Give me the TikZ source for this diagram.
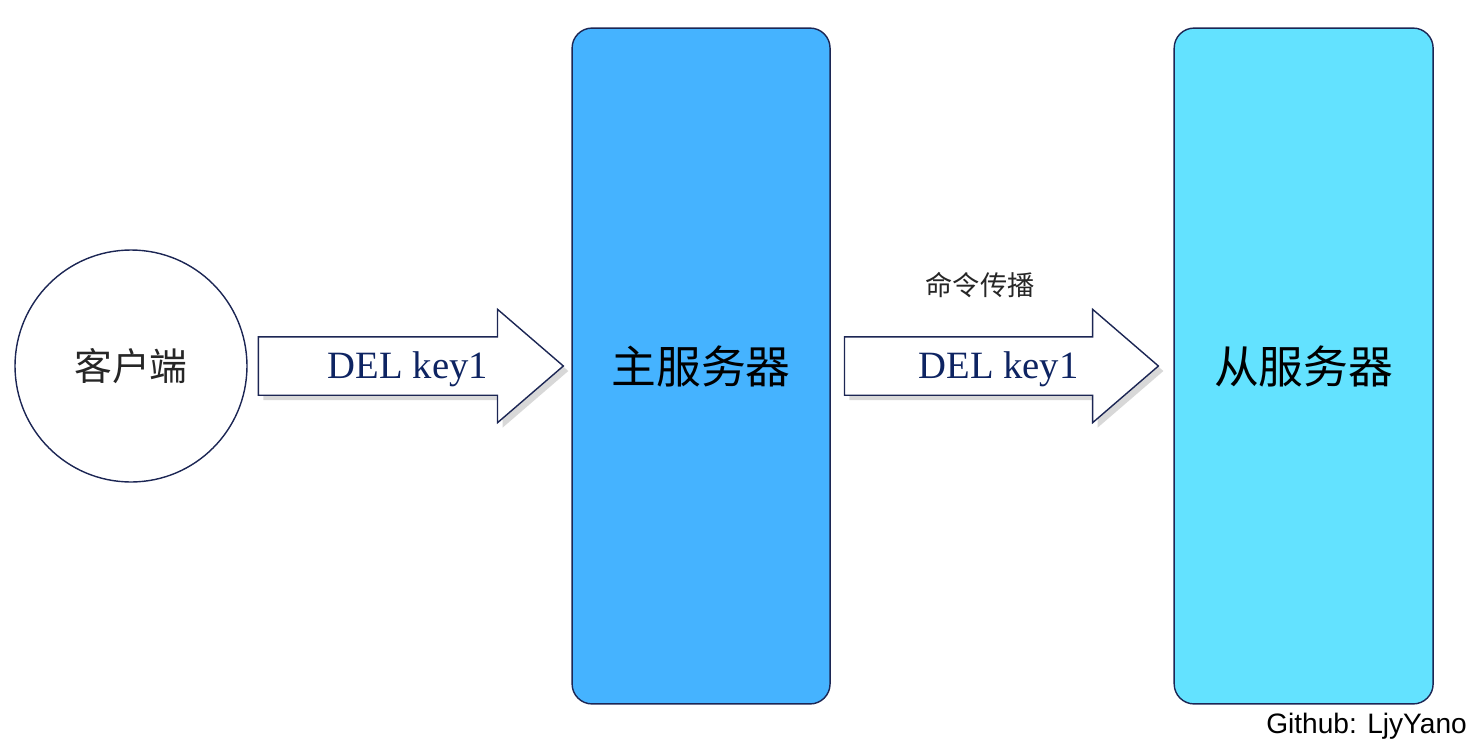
\documentclass[tikz,border=0pt]{standalone}
\usepackage{fontspec}
\setmainfont{Liberation Serif}
\newfontfamily\cjk{Noto Sans CJK SC}
\newfontfamily\ghfont{Liberation Sans}
\usepackage{tikz}
\usetikzlibrary{positioning,shapes.arrows,shadows}
\definecolor{edgecolor}{RGB}{28,38,84}
\definecolor{txtcolor}{RGB}{14,36,98}
\definecolor{mastercolor}{RGB}{69,179,255}
\definecolor{slavecolor}{RGB}{99,226,255}

\begin{document}
\begin{tikzpicture}[x=0.02cm,y=-0.02cm,
    server/.style={draw=edgecolor,thick,rounded corners=0.4cm,minimum width=5.16cm,minimum height=13.52cm,
      font=\cjk\fontsize{25.5}{30}\selectfont},
    cmdarrow/.style={single arrow,draw=edgecolor,fill=white,thick,single arrow head extend=0.55cm,
      single arrow tip angle=81.5,minimum height=6.1cm,inner ysep=0pt,text height=0.81cm,text depth=0.33cm,
      text=txtcolor,font=\fontsize{22}{26}\selectfont,
      drop shadow={shadow xshift=0.1cm,shadow yshift=-0.1cm,fill=black!30,opacity=0.5}}]
  \useasboundingbox (0,0) rectangle (1471,747);
  % client, master and slave
  \node[circle,draw=edgecolor,thick,minimum size=4.64cm,font=\cjk\fontsize{21.5}{26}\selectfont,text=black!85]
    (client) at (131,366) {客户端};
  \node[cmdarrow,right=0.2cm of client] (req) {\hspace*{0.56cm}DEL key1};
  \node[server,fill=mastercolor,right=0.14cm of req] (master) {主服务器};
  \node[cmdarrow,minimum height=6.28cm,right=0.26cm of master] (prop) {\hspace*{0.56cm}DEL key1};
  \node[server,fill=slavecolor,minimum width=5.18cm,right=0.28cm of prop] (slave) {从服务器};
  \node[font=\cjk\fontsize{15.5}{19}\selectfont,text=black!85] (proplabel) at (980,285) {命令传播};
  \node[anchor=east,font=\ghfont\fontsize{16}{19}\selectfont] (credit) at (1473,726) {Github: LjyYano};
\end{tikzpicture}
\end{document}
